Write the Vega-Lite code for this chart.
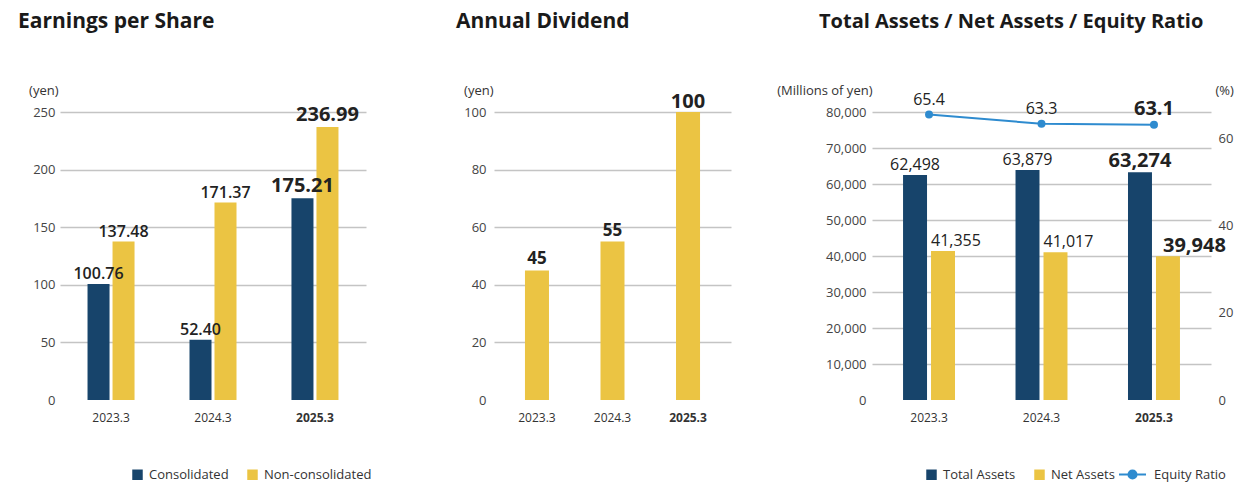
{
  "$schema": "https://vega.github.io/schema/vega-lite/v6.json",
  "background": "white",
  "padding": {"left": 18, "top": 11, "right": 0, "bottom": 0},
  "config": {
    "view": {"stroke": null},
    "font": "Open Sans",
    "axis": {"domain": false, "ticks": false, "labelFont": "Open Sans", "labelFontSize": 13, "labelColor": "#444", "titleFont": "Open Sans", "titleFontSize": 13, "titleFontWeight": "normal", "titleColor": "#333", "gridColor": "#c4c4c4", "gridWidth": 1.5},
    "legend": {"labelFont": "Open Sans", "labelFontSize": 13, "labelColor": "#333", "title": null},
    "title": {"font": "Open Sans", "fontSize": 21, "fontWeight": "bold", "color": "#1a1a1a", "anchor": "start", "frame": "group", "offset": 52}
  },
  "resolve": {"scale": {"color": "independent", "xOffset": "independent", "stroke": "independent"}, "legend": {"color": "independent", "stroke": "independent"}},
  "hconcat": [
    {
      "title": {"text": "Earnings per Share", "dx": -42},
      "width": 306,
      "height": 288,
      "data": {"values": [
        {"year": "2023.3", "type": "Consolidated", "value": 100.76},
        {"year": "2023.3", "type": "Non-consolidated", "value": 137.48},
        {"year": "2024.3", "type": "Consolidated", "value": 52.40},
        {"year": "2024.3", "type": "Non-consolidated", "value": 171.37},
        {"year": "2025.3", "type": "Consolidated", "value": 175.21},
        {"year": "2025.3", "type": "Non-consolidated", "value": 236.99}
      ]},
      "encoding": {
        "x": {"field": "year", "type": "nominal", "scale": {"paddingInner": 0.539, "paddingOuter": 0.27},
          "axis": {"title": null, "labelAngle": 0, "labelFontSize": 12, "labelColor": "#333", "labelPadding": 12, "grid": false,
            "labelFontWeight": {"condition": {"test": "datum.value === '2025.3'", "value": "bold"}, "value": "normal"}}},
        "xOffset": {"field": "type", "type": "nominal", "sort": ["Consolidated", "Non-consolidated"], "scale": {"paddingInner": 0.12, "paddingOuter": 0}},
        "y": {"field": "value", "type": "quantitative", "scale": {"domain": [0, 250]},
          "axis": {"title": "(yen)", "titleAngle": 0, "titleAlign": "right", "titleX": -2, "titleY": -18, "titleBaseline": "alphabetic",
            "values": [0, 50, 100, 150, 200, 250], "labelPadding": 5,
            "gridColor": {"condition": {"test": "datum.value === 0", "value": "transparent"}, "value": "#c4c4c4"}}}
      },
      "layer": [
        {"mark": {"type": "bar"},
         "encoding": {"color": {"field": "type", "type": "nominal", "scale": {"domain": ["Consolidated", "Non-consolidated"], "range": ["#17446b", "#ebc443"]},
           "legend": {"orient": "none", "direction": "horizontal", "columns": 2, "legendX": 71, "legendY": 356, "symbolType": "square", "symbolSize": 110, "symbolStrokeWidth": 0, "labelOffset": 5, "columnPadding": 17}}}},
        {"transform": [{"filter": "datum.year !== '2025.3'"}],
         "mark": {"type": "text", "baseline": "alphabetic", "dy": -5, "fontSize": 16, "fontWeight": 600, "color": "#222"},
         "encoding": {"text": {"field": "value", "format": ".2f"}}},
        {"transform": [{"filter": "datum.year === '2025.3'"}],
         "mark": {"type": "text", "baseline": "alphabetic", "dy": -6, "fontSize": 20, "fontWeight": "bold", "color": "#222"},
         "encoding": {"text": {"field": "value", "format": ".2f"}}}
      ]
    },
    {
      "spacing": 45,
      "resolve": {"scale": {"color": "independent", "xOffset": "independent", "stroke": "independent"}, "legend": {"color": "independent", "stroke": "independent"}},
      "hconcat": [
        {
          "title": {"text": "Annual Dividend", "dx": -38},
          "width": 237,
          "height": 288,
          "data": {"values": [
            {"year": "2023.3", "value": 45},
            {"year": "2024.3", "value": 55},
            {"year": "2025.3", "value": 100}
          ]},
          "encoding": {
            "x": {"field": "year", "type": "nominal", "scale": {"paddingInner": 0.682, "paddingOuter": 0.41},
              "axis": {"title": null, "labelAngle": 0, "labelFontSize": 12, "labelColor": "#333", "labelPadding": 12, "grid": false,
                "labelFontWeight": {"condition": {"test": "datum.value === '2025.3'", "value": "bold"}, "value": "normal"}}},
            "y": {"field": "value", "type": "quantitative", "scale": {"domain": [0, 100]},
              "axis": {"title": "(yen)", "titleAngle": 0, "titleAlign": "right", "titleX": -1, "titleY": -18, "titleBaseline": "alphabetic",
                "values": [0, 20, 40, 60, 80, 100], "labelPadding": 8,
                "gridColor": {"condition": {"test": "datum.value === 0", "value": "transparent"}, "value": "#c4c4c4"}}}
          },
          "layer": [
            {"mark": {"type": "bar", "color": "#ebc443"}},
            {"transform": [{"filter": "datum.year !== '2025.3'"}],
             "mark": {"type": "text", "baseline": "alphabetic", "dy": -6, "fontSize": 17, "fontWeight": "bold", "color": "#222"},
             "encoding": {"text": {"field": "value", "type": "quantitative"}}},
            {"transform": [{"filter": "datum.year === '2025.3'"}],
             "mark": {"type": "text", "baseline": "alphabetic", "dy": -4, "fontSize": 20, "fontWeight": "bold", "color": "#222"},
             "encoding": {"text": {"field": "value", "type": "quantitative"}}}
          ]
        },
        {
          "title": {"text": "Total Assets / Net Assets / Equity Ratio", "dx": -53, "fontSize": 20},
          "width": 339,
          "height": 288,
          "data": {"values": [
            {"year": "2023.3", "type": "Total Assets", "value": 62498},
            {"year": "2023.3", "type": "Net Assets", "value": 41355},
            {"year": "2023.3", "type": "Equity Ratio", "value": 65.4},
            {"year": "2024.3", "type": "Total Assets", "value": 63879},
            {"year": "2024.3", "type": "Net Assets", "value": 41017},
            {"year": "2024.3", "type": "Equity Ratio", "value": 63.3},
            {"year": "2025.3", "type": "Total Assets", "value": 63274},
            {"year": "2025.3", "type": "Net Assets", "value": 39948},
            {"year": "2025.3", "type": "Equity Ratio", "value": 63.1}
          ]},
          "resolve": {"scale": {"y": "independent"}},
          "layer": [
            {
              "transform": [{"filter": "datum.type !== 'Equity Ratio'"}],
              "encoding": {
                "x": {"field": "year", "type": "nominal", "scale": {"paddingInner": 0.538, "paddingOuter": 0.276},
                  "axis": {"title": null, "labelAngle": 0, "labelFontSize": 12, "labelColor": "#333", "labelPadding": 12, "grid": false,
                    "labelFontWeight": {"condition": {"test": "datum.value === '2025.3'", "value": "bold"}, "value": "normal"}}},
                "xOffset": {"field": "type", "type": "nominal", "sort": ["Total Assets", "Net Assets"], "scale": {"paddingInner": 0.143, "paddingOuter": 0}},
                "y": {"field": "value", "type": "quantitative", "scale": {"domain": [0, 80000]},
                  "axis": {"title": "(Millions of yen)", "orient": "left", "titleAngle": 0, "titleAlign": "right", "titleX": 0, "titleY": -18, "titleBaseline": "alphabetic",
                    "values": [0, 10000, 20000, 30000, 40000, 50000, 60000, 70000, 80000], "format": ",d", "labelPadding": 6,
                    "gridColor": {"condition": {"test": "datum.value === 0", "value": "transparent"}, "value": "#c4c4c4"}}}
              },
              "layer": [
                {"mark": {"type": "bar"},
                 "encoding": {"color": {"field": "type", "type": "nominal", "scale": {"domain": ["Total Assets", "Net Assets"], "range": ["#17446b", "#ebc443"]},
                   "legend": {"orient": "none", "direction": "horizontal", "columns": 2, "legendX": 53, "legendY": 356, "symbolType": "square", "symbolSize": 110, "symbolStrokeWidth": 0, "labelOffset": 5, "columnPadding": 17}}}},
                {"transform": [{"filter": "datum.type === 'Total Assets' && datum.year !== '2025.3'"}],
                 "mark": {"type": "text", "baseline": "alphabetic", "dy": -5, "fontSize": 16, "fontWeight": 500, "color": "#222"},
                 "encoding": {"text": {"field": "value", "type": "quantitative", "format": ",d"}}},
                {"transform": [{"filter": "datum.type === 'Total Assets' && datum.year === '2025.3'"}],
                 "mark": {"type": "text", "baseline": "alphabetic", "dy": -5, "fontSize": 20, "fontWeight": "bold", "color": "#222"},
                 "encoding": {"text": {"field": "value", "type": "quantitative", "format": ",d"}}},
                {"transform": [{"filter": "datum.type === 'Net Assets' && datum.year !== '2025.3'"}],
                 "mark": {"type": "text", "baseline": "alphabetic", "align": "left", "dx": -12, "dy": -5, "fontSize": 16, "fontWeight": 500, "color": "#222"},
                 "encoding": {"text": {"field": "value", "type": "quantitative", "format": ",d"}}},
                {"transform": [{"filter": "datum.type === 'Net Assets' && datum.year === '2025.3'"}],
                 "mark": {"type": "text", "baseline": "alphabetic", "align": "left", "dx": -5, "dy": -4, "fontSize": 20, "fontWeight": "bold", "color": "#222"},
                 "encoding": {"text": {"field": "value", "type": "quantitative", "format": ",d"}}}
              ]
            },
            {
              "transform": [{"filter": "datum.type === 'Equity Ratio'"}],
              "encoding": {
                "x": {"field": "year", "type": "nominal"},
                "y": {"field": "value", "type": "quantitative", "scale": {"domain": [0, 66]},
                  "axis": {"title": "(%)", "orient": "right", "titleAngle": 0, "titleAlign": "left", "titleX": 4, "titleY": -18, "titleBaseline": "alphabetic",
                    "values": [0, 20, 40, 60], "labelPadding": 7, "grid": false}}
              },
              "layer": [
                {"mark": {"type": "line", "color": "#2e8bcf", "strokeWidth": 2},
                 "encoding": {"stroke": {"field": "type", "type": "nominal", "scale": {"domain": ["Equity Ratio"], "range": ["#2e8bcf"]},
                   "legend": {"orient": "none", "legendX": 246, "legendY": 348, "symbolType": "M-1,0L1,0M-0.3,0A0.3,0.3,0,1,0,0.3,0A0.3,0.3,0,1,0,-0.3,0Z", "symbolSize": 729, "symbolStrokeWidth": 2, "symbolFillColor": "#2e8bcf", "symbolStrokeColor": "#2e8bcf", "labelOffset": 7,
                     "encode": {"symbols": {"update": {"fill": {"value": "#2e8bcf"}, "stroke": {"value": "#2e8bcf"}, "strokeWidth": {"value": 2}}}}}}}},
                {"mark": {"type": "point", "filled": true, "size": 64, "color": "#2e8bcf", "opacity": 1}},
                {"transform": [{"filter": "datum.year !== '2025.3'"}],
                 "mark": {"type": "text", "baseline": "alphabetic", "dy": -10, "fontSize": 16, "fontWeight": 500, "color": "#222"},
                 "encoding": {"text": {"field": "value", "type": "quantitative", "format": ".1f"}}},
                {"transform": [{"filter": "datum.year === '2025.3'"}],
                 "mark": {"type": "text", "baseline": "alphabetic", "dy": -10, "fontSize": 20, "fontWeight": "bold", "color": "#222"},
                 "encoding": {"text": {"field": "value", "type": "quantitative", "format": ".1f"}}}
              ]
            }
          ]
        }
      ]
    }
  ],
  "spacing": 84
}
